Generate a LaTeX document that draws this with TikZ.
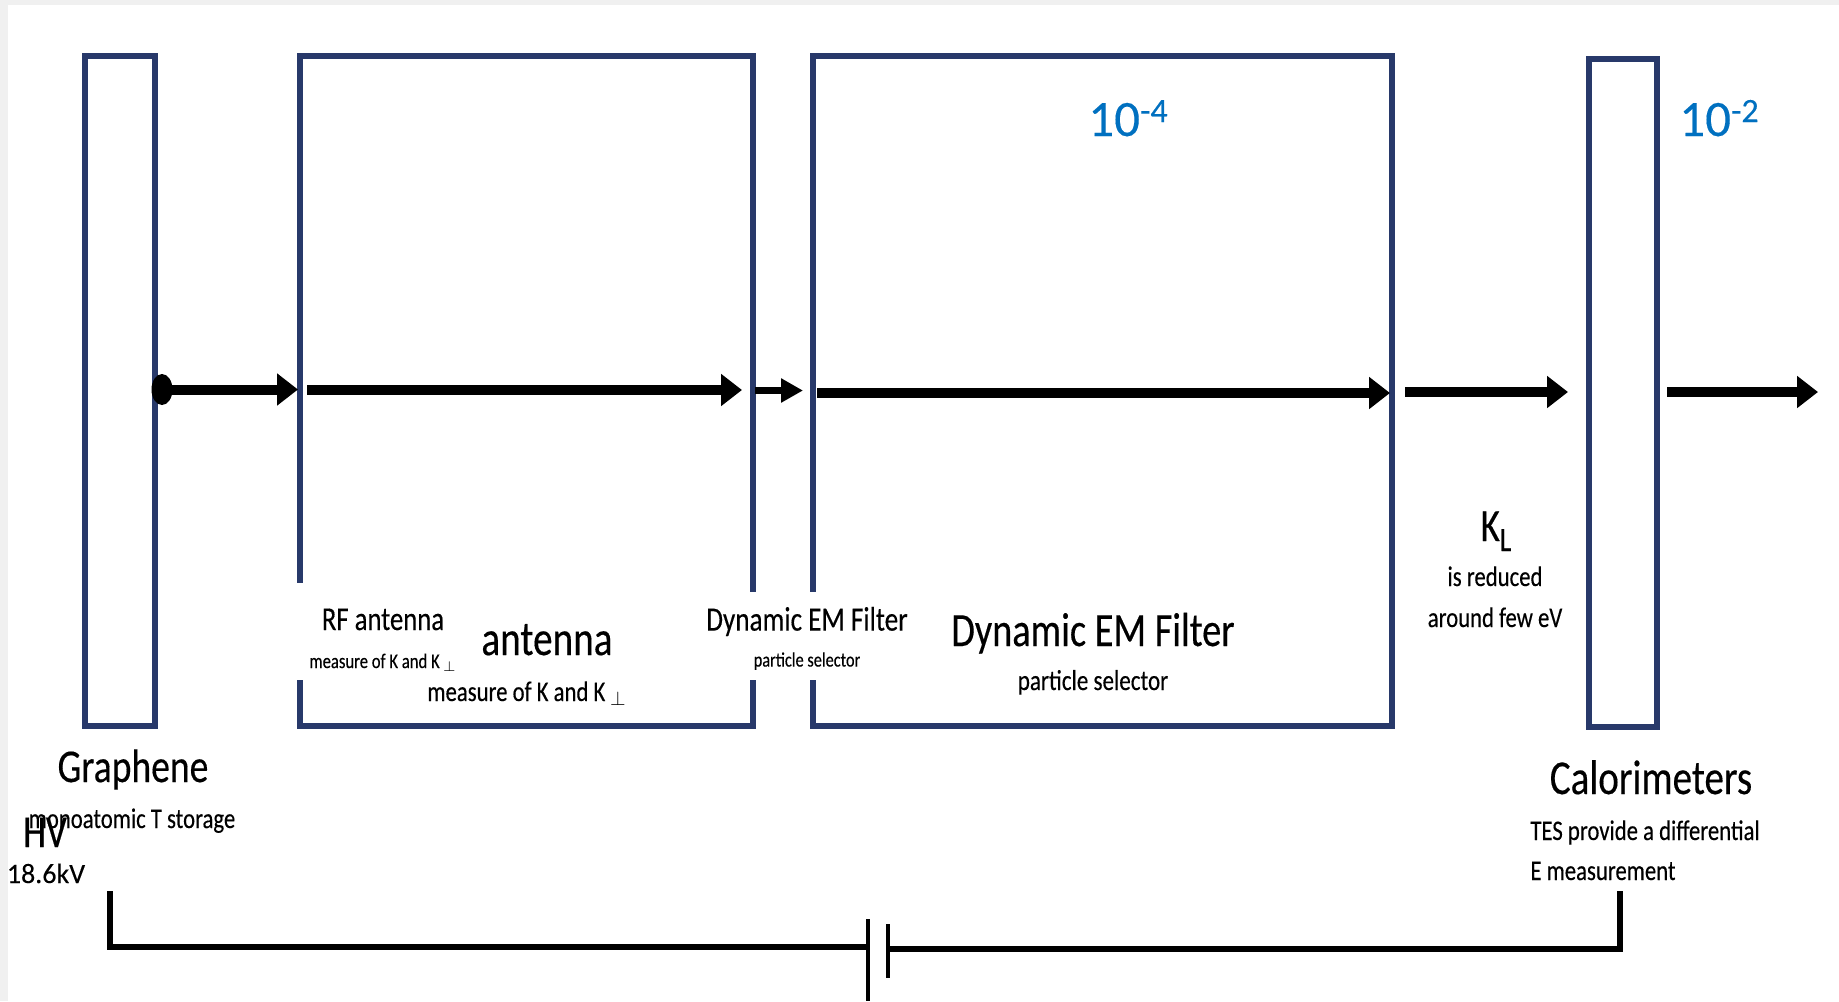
\documentclass[tikz,border=0pt]{standalone}
\usepackage{fontspec}
\setmainfont{Carlito}
\newfontfamily\condfont[FakeStretch=0.8,FakeBold=0.3]{Carlito}
\newfontfamily\plainfont[FakeBold=0.2]{Carlito}
\usetikzlibrary{arrows.meta,shapes.geometric}
\definecolor{frame}{HTML}{28396A}
\definecolor{numblue}{HTML}{0070C0}
\newcommand{\supnum}[1]{\raisebox{7pt}{\fontsize{17}{17}\selectfont #1}}
\newcommand{\subletter}[1]{\raisebox{-5pt}{\fontsize{17}{17}\selectfont #1}}
\tikzset{
  panel/.style={draw=frame, line width=3pt, inner sep=0pt, minimum height=335pt},
  beam/.style={line width=5pt, -{Triangle[width=15.5pt,length=10.5pt]}},
  thinbeam/.style={line width=3.5pt, -{Triangle[width=11.5pt,length=11pt]}},
  wire/.style={line width=3.4pt},
  plate/.style={line width=1.8pt},
  lbl/.style={inner sep=0pt, anchor=base},
  cover/.style={fill=white, inner sep=0pt, align=center},
}
\begin{document}
\begin{tikzpicture}[x=0.5pt,y=-0.5pt]
  \useasboundingbox (0,0) rectangle (1839,1001);
  \fill[black!6] (0,0) rectangle (1839,1001);
  \fill[white] (8,5) rectangle (1839,1001);

  \node[panel, minimum width=35pt] (graph) at (120,391) {};
  \node[panel, minimum width=226.25pt] (rf) at (526.25,391) {};
  \node[panel, minimum width=289.25pt] (filter) at (1102.25,391) {};
  \node[panel, minimum width=34pt, minimum height=334pt] (calo) at (1623,393) {};

  \node[ellipse, fill=black, inner sep=0pt, minimum width=10.5pt, minimum height=15.5pt] (src) at (162,389.5) {};
  \coordinate (t1) at (298,389.5);
  \coordinate (s2) at (307,390);
  \coordinate (t2) at (742,390);
  \coordinate (s3) at (755,390.5);
  \coordinate (t3) at (803,390.5);
  \coordinate (s4) at (817,393);
  \coordinate (t4) at (1390,393);
  \coordinate (s5) at (1405,392);
  \coordinate (t5) at (1568,392);
  \coordinate (s6) at (1667,392);
  \coordinate (t6) at (1818,392);
  \draw[beam] (src.center) -- (t1);
  \draw[beam] (s2) -- (t2);
  \draw[thinbeam] (s3) -- (t3);
  \draw[beam] (s4) -- (t4);
  \draw[beam] (s5) -- (t5);
  \draw[beam] (s6) -- (t6);

  \node[cover, font=\condfont\fontsize{10.4}{19}\selectfont, minimum width=92pt, minimum height=48.5pt] (rflbl) at (383,631.5) {\rule{0pt}{19pt}{\fontsize{16.7}{19}\selectfont RF antenna}\\measure of K and K\,$_{\perp}$};
  \node[cover, font=\condfont\fontsize{10.2}{18}\selectfont, minimum width=107.5pt, minimum height=44pt] (fltlbl) at (807,636) {\rule{0pt}{14.2pt}{\fontsize{17}{18}\selectfont Dynamic EM Filter}\\particle selector};

  \node[lbl, font=\condfont\fontsize{24.5}{30}\selectfont] (ant) at (547,655) {antenna};
  \node[lbl, font=\condfont\fontsize{14.2}{17}\selectfont] (antmeas) at (527,701) {measure of K and K\,$_{\perp}$};
  \node[lbl, font=\condfont\fontsize{23.9}{28}\selectfont] (emf) at (1093,646) {Dynamic EM Filter};
  \node[lbl, font=\condfont\fontsize{14.4}{17}\selectfont] (sel) at (1093,690) {particle selector};

  \node[lbl, text=numblue, font=\plainfont\fontsize{25.5}{30}\selectfont] (att4) at (1128,136) {10\supnum{-4}};
  \node[lbl, text=numblue, font=\plainfont\fontsize{25.5}{30}\selectfont] (att2) at (1719,136) {10\supnum{-2}};

  \node[lbl, font=\condfont\fontsize{23}{28}\selectfont] (kl) at (1496,541) {K\subletter{L}};
  \node[lbl, font=\condfont\fontsize{14.2}{17}\selectfont] (red1) at (1495,586) {is reduced};
  \node[lbl, font=\condfont\fontsize{14.2}{17}\selectfont] (red2) at (1495,627) {around few eV};

  \node[lbl, font=\condfont\fontsize{23.5}{28}\selectfont] (graphene) at (133,782) {Graphene};
  \node[lbl, font=\condfont\fontsize{14.2}{17}\selectfont] (store) at (132,828) {monoatomic T storage};
  \node[lbl, font=\condfont\fontsize{22.9}{27}\selectfont] (hv) at (45,847) {HV};
  \node[lbl, font=\plainfont\fontsize{14}{17}\selectfont] (volt) at (46,883) {18.6kV};

  \node[lbl, font=\condfont\fontsize{24.4}{29}\selectfont] (calname) at (1651,794) {Calorimeters};
  \node[lbl, anchor=base west, font=\condfont\fontsize{14.2}{17}\selectfont] (tes1) at (1530,840) {TES provide a differential};
  \node[lbl, anchor=base west, font=\condfont\fontsize{14.2}{17}\selectfont] (tes2) at (1530,880) {E measurement};

  \coordinate (hvL) at (110,891);
  \coordinate (capA) at (868,947);
  \coordinate (capB) at (888,949);
  \coordinate (hvR) at (1620,891);
  \draw[wire] (hvL) |- (capA);
  \draw[wire] (capB) -| (hvR);
  \draw[plate] (868,919) -- (868,1001);
  \draw[plate] (888,924) -- (888,978);
\end{tikzpicture}
\end{document}
